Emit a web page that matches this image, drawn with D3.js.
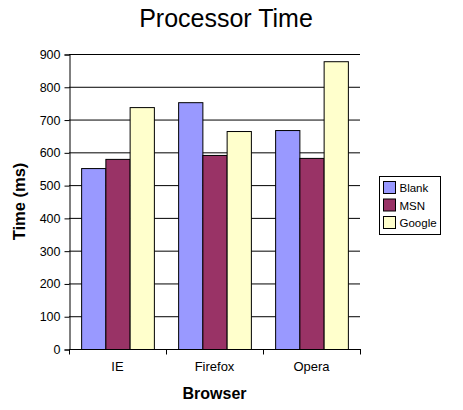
<!DOCTYPE html>
<html>
<head>
<meta charset="utf-8">
<script src="https://cdn.jsdelivr.net/npm/d3@7"></script>
<style>
  body { margin: 0; background: #fff; }
  svg { font-family: "Liberation Sans", Arial, sans-serif; }
</style>
</head>
<body>
<div id="chart"></div>
<script>
// browsers on the x axis, one bar per page
const browsers = ["IE", "Firefox", "Opera"];
const pages = ["Blank", "MSN", "Google"];
const blank = [552, 753, 668];
const msn = [580, 592, 583];
const google = [738, 665, 878];
const yTicks = [0, 100, 200, 300, 400, 500, 600, 700, 800, 900];
const colors = ["#9999ff", "#993366", "#ffffcc"];

const series = [blank, msn, google];

const width = 463, height = 410;
const margin = ({top: 54, right: 103, bottom: 61, left: 69});

const svg = d3.select("#chart")
  .append("svg")
    .attr("width", width)
    .attr("height", height);

const x = d3.scaleBand()
  .domain(browsers)
  .range([margin.left, width - margin.right]);

const xInner = d3.scaleBand()
  .domain(pages)
  .range([0, x.bandwidth()])
  .paddingOuter(0.5)
  .paddingInner(0);

const y = d3.scaleLinear()
  .domain([0, 900])
  .range([height - margin.bottom, margin.top]);

// gridlines
svg.append("g")
  .selectAll("line")
  .data(yTicks.slice(1))
  .join("line")
    .attr("x1", margin.left)
    .attr("x2", width - margin.right)
    .attr("y1", d => y(d) + 0.5)
    .attr("y2", d => y(d) + 0.5)
    .attr("stroke", "#000");

// bars
const groups = svg.append("g")
  .selectAll("g")
  .data(browsers)
  .join("g")
    .attr("transform", d => `translate(${x(d)},0)`);

groups.selectAll("rect")
  .data((b, i) => pages.map((p, j) => ({page: p, value: series[j][i], color: colors[j]})))
  .join("rect")
    .attr("x", d => xInner(d.page) + 0.5)
    .attr("y", d => y(d.value) + 0.5)
    .attr("width", xInner.bandwidth())
    .attr("height", d => y(0) - y(d.value))
    .attr("fill", d => d.color)
    .attr("stroke", "#000")
    .attr("stroke-width", 1);

// y axis
const yAxis = g => g
  .attr("transform", `translate(${margin.left + 0.5},0.5)`)
  .call(d3.axisLeft(y).tickValues(yTicks).tickSize(5).tickPadding(4))
  .call(g => g.selectAll("path, line").attr("stroke", "#000"))
  .call(g => g.selectAll("text").attr("font-size", 12.5).attr("fill", "#000")
    .attr("font-family", "Liberation Sans, Arial, sans-serif"));

// x axis, ticks between categories
const xAxis = g => g
  .attr("transform", `translate(0,${y(0) + 0.5})`)
  .call(g => g.append("line")
    .attr("x1", margin.left).attr("x2", width - margin.right + 1)
    .attr("stroke", "#000"))
  .call(g => g.selectAll(".sep")
    .data(browsers.map(b => x(b)).concat([width - margin.right]))
    .join("line")
      .attr("class", "sep")
      .attr("x1", d => d + 0.5).attr("x2", d => d + 0.5)
      .attr("y1", 0).attr("y2", 5)
      .attr("stroke", "#000"))
  .call(g => g.selectAll(".lbl")
    .data(browsers)
    .join("text")
      .attr("class", "lbl")
      .attr("x", d => x(d) + x.bandwidth() / 2)
      .attr("y", 21)
      .attr("text-anchor", "middle")
      .attr("font-size", 13)
      .text(d => d));

svg.append("g").call(yAxis);
svg.append("g").call(xAxis);

// titles
svg.append("text")
  .attr("x", 226)
  .attr("y", 27)
  .attr("text-anchor", "middle")
  .attr("font-size", 25)
  .text("Processor Time");

svg.append("text")
  .attr("x", (margin.left + width - margin.right) / 2)
  .attr("y", 399)
  .attr("text-anchor", "middle")
  .attr("font-size", 16)
  .attr("font-weight", "bold")
  .text("Browser");

svg.append("text")
  .attr("transform", `translate(25,${y(450)}) rotate(-90)`)
  .attr("text-anchor", "middle")
  .attr("font-size", 16.5)
  .attr("font-weight", "bold")
  .text("Time (ms)");

// legend
const legend = svg.append("g")
  .attr("transform", "translate(379.5,176.5)");

legend.append("rect")
  .attr("width", 61)
  .attr("height", 58)
  .attr("fill", "#fff")
  .attr("stroke", "#000");

const items = legend.selectAll("g")
  .data(pages)
  .join("g")
    .attr("transform", (d, i) => `translate(4,${5 + i * 17.5})`);

items.append("rect")
  .attr("width", 12)
  .attr("height", 12)
  .attr("fill", (d, i) => colors[i])
  .attr("stroke", "#000");

items.append("text")
  .attr("x", 16)
  .attr("y", 10.5)
  .attr("font-size", 11.5)
  .text(d => d);
</script>
</body>
</html>
